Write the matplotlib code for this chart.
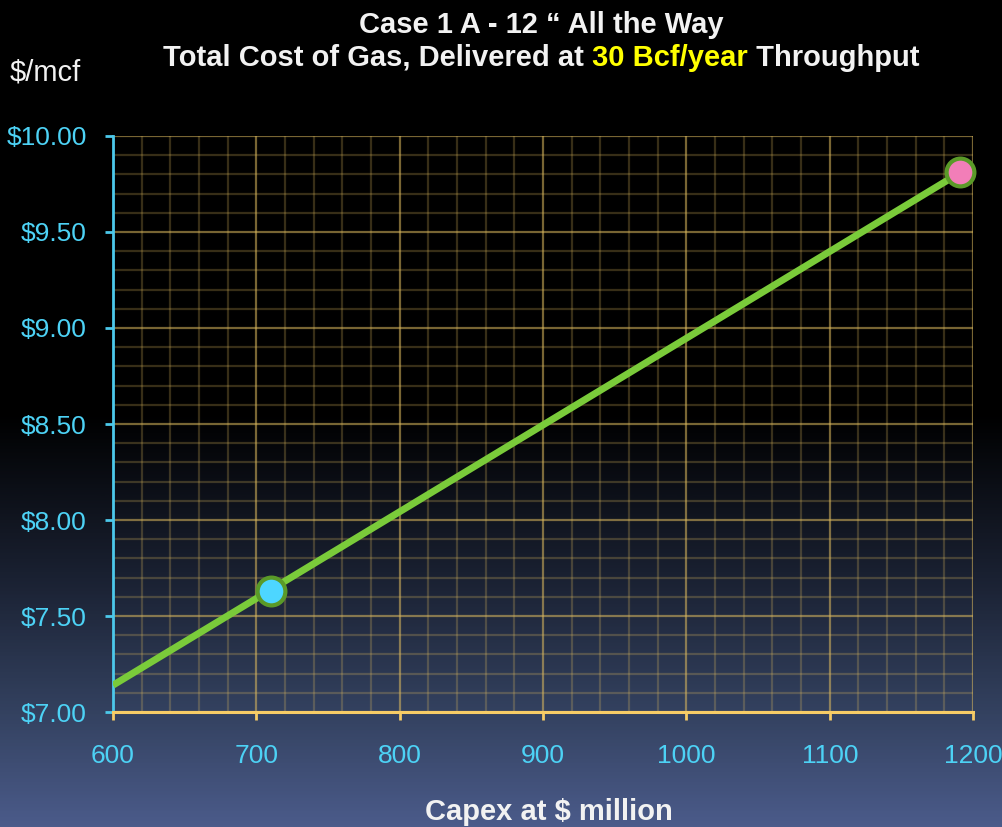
import numpy as np
import matplotlib
matplotlib.use("Agg")
import matplotlib.pyplot as plt
from matplotlib.colors import LinearSegmentedColormap
from matplotlib.ticker import MultipleLocator, FuncFormatter

plt.rcParams['font.family'] = ['Liberation Sans', 'DejaVu Sans']

# Cost trend across capex, plus the two highlighted cases
capex_line = [600, 1200]
cost_line = [7.14, 9.85]
case_capex = [710, 1191]
case_cost = [7.63, 9.81]
case_colors = ['#4dd6ff', '#f27eb8']

x_ticks = [600, 700, 800, 900, 1000, 1100, 1200]
y_ticks = [7.0, 7.5, 8.0, 8.5, 9.0, 9.5, 10.0]

fig = plt.figure(figsize=(10.03, 8.27), dpi=100)

# Background: black top fading to slate blue at the bottom
bg = fig.add_axes([0, 0, 1, 1], zorder=-10)
bg_cmap = LinearSegmentedColormap.from_list(
    'bg', [(0.0, '#000000'), (0.50, '#000000'), (0.70, '#1a2132'),
           (0.86, '#33415f'), (1.0, '#4b5b8a')])
grad = np.linspace(0, 1, 512).reshape(-1, 1)
bg.imshow(grad, aspect='auto', cmap=bg_cmap, extent=[0, 1, 0, 1],
          origin='upper')
bg.set_axis_off()

ax = fig.add_axes([0.1127, 0.139, 0.8575, 0.6966])
ax.set_facecolor('none')
ax.set_xlim(600, 1200)
ax.set_ylim(7.0, 10.0)
ax.set_xticks(x_ticks)
ax.set_yticks(y_ticks)

grid_col = '#dcb95e'
ax.xaxis.set_minor_locator(MultipleLocator(20))
ax.yaxis.set_minor_locator(MultipleLocator(0.1))
ax.grid(which='major', color=grid_col, alpha=0.55, linewidth=1.6, zorder=0)
ax.grid(which='minor', color=grid_col, alpha=0.25, linewidth=1.6, zorder=0)
ax.set_axisbelow(True)

for s in ['top', 'right']:
    ax.spines[s].set_visible(False)
ax.spines['left'].set_color('#4cc8ea')
ax.spines['left'].set_linewidth(2)
ax.spines['bottom'].set_color('#f7cc66')
ax.spines['bottom'].set_linewidth(2.2)

ax.yaxis.set_major_formatter(FuncFormatter(lambda v, p: f'${v:.2f}'))
ax.tick_params(axis='y', which='major', colors='#4cc8ea', labelcolor='#4dd2f5',
               labelsize=19, length=6, width=2, pad=13)
ax.tick_params(axis='x', which='major', colors='#f7cc66', labelcolor='#4dd2f5',
               labelsize=19, length=6, width=2, pad=17)
ax.tick_params(which='minor', length=0)

ax.plot(capex_line, cost_line, color='#7acb3a', linewidth=5,
        solid_capstyle='butt', zorder=3, clip_on=True)
for cx, cy, cc in zip(case_capex, case_cost, case_colors):
    ax.plot(cx, cy, 'o', markersize=20, markerfacecolor=cc,
            markeredgecolor='#5a9a28', markeredgewidth=3, zorder=4,
            clip_on=False)

# Titles and axis captions
fig.text(0.540, 0.970, 'Case 1 A - 12 \u201c All the Way', ha='center',
         va='center', color='#f2f2f2', fontsize=21, fontweight='bold')
line2 = [('Total Cost of Gas, Delivered at ', '#f2f2f2'),
         ('30 Bcf/year', '#ffff00'), (' Throughput', '#f2f2f2')]
fig.canvas.draw()
renderer = fig.canvas.get_renderer()
parts = []
total_w = 0
for txt, col in line2:
    t = fig.text(0, 0.930, txt, ha='left', va='center', color=col,
                 fontsize=21, fontweight='bold')
    w = t.get_window_extent(renderer).width
    parts.append((t, w))
    total_w += w
x0 = 0.540 * fig.bbox.width - total_w / 2
for t, w in parts:
    t.set_x(x0 / fig.bbox.width)
    x0 += w

fig.text(0.010, 0.912, '$/mcf', ha='left', va='center', color='#f2f2f2',
         fontsize=21)
fig.text(0.547, 0.018, 'Capex at $ million', ha='center', va='center',
         color='#f2f2f2', fontsize=21, fontweight='bold')

fig.savefig('out.png', dpi=100)
